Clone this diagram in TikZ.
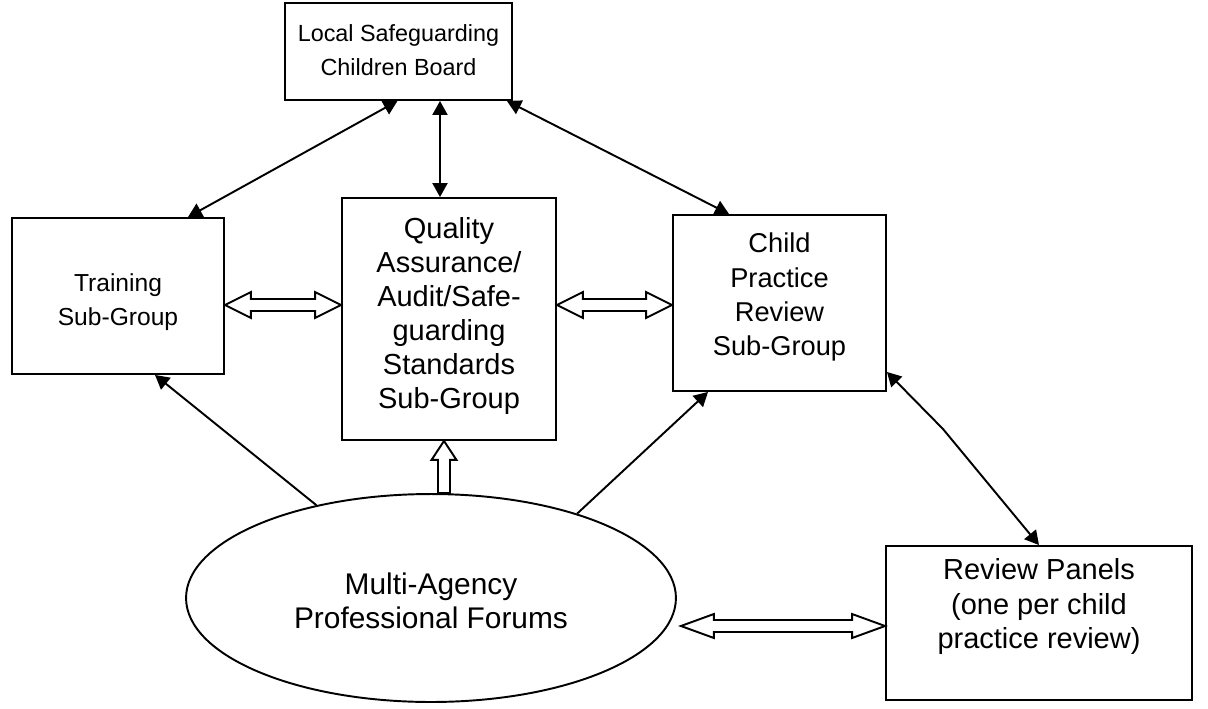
\documentclass[tikz,border=0pt]{standalone}
\usepackage{fontspec}
\setmainfont{Liberation Sans}
\usetikzlibrary{arrows.meta,calc,shapes.geometric}
\tikzset{
  box/.style={draw, line width=1.1pt, rectangle, inner sep=0pt},
  oval/.style={draw, line width=1.1pt, ellipse, inner sep=0pt},
  txt/.style={inner sep=0pt, align=center, font=\fontsize{#1}{19.4}\selectfont},
  link/.style={line width=1.1pt, {Triangle[length=0.28cm,width=0.3cm]}-{Triangle[length=0.28cm,width=0.3cm]}},
  onelink/.style={line width=1.1pt, -{Triangle[length=0.28cm,width=0.3cm]}},
  hollow/.style={draw, line width=1.1pt, fill=white, line join=miter}
}
\begin{document}
\begin{tikzpicture}[x=0.02cm,y=-0.02cm]
\useasboundingbox (0,0) rectangle (1208,708);
\node[box, minimum width=4.54cm, minimum height=1.94cm] (lscb) at (398.5,51.5) {};
\node[box, minimum width=4.24cm, minimum height=3.12cm] (tr) at (118,296) {};
\node[box, minimum width=4.28cm, minimum height=4.84cm] (qa) at (449,319) {};
\node[box, minimum width=4.26cm, minimum height=3.52cm] (cpr) at (779.5,303) {};
\node[box, minimum width=6.12cm, minimum height=3.08cm] (rp) at (1039,623) {};
\node[oval, minimum width=9.8cm, minimum height=4.16cm] (ell) at (431,598) {};

\node[txt=13.3] (lscbt) at ([yshift=0.03cm]lscb.center) {Local Safeguarding\\Children Board};
\node[txt=14] (trt) at ([yshift=-0.12cm]tr.center) {Training\\Sub-Group};
\node[txt=16.5] (qat) at ([yshift=0.06cm]qa.center) {Quality\\Assurance/\\Audit/Safe-\\guarding\\Standards\\Sub-Group};
\node[txt=15.5] (cprt) at ([yshift=0.12cm]cpr.center) {Child\\Practice\\Review\\Sub-Group};
\node[txt=16.5] (rpt) at ([yshift=0.33cm]rp.center) {Review Panels\\(one per child\\practice review)};
\node[txt=17] (ellt) at ([yshift=-0.05cm]ell.center) {Multi-Agency\\Professional Forums};

% thin arrows from the board
\draw[link] ([xshift=-0.02cm]lscb.south) -- ([xshift=1.4cm]tr.north);
\draw[link] ([xshift=0.83cm]lscb.south) -- ([xshift=0.83cm]lscb.south |- qa.north);
\draw[link] ([xshift=2.17cm]lscb.south) -- ([xshift=-1.01cm]cpr.north);

% from forums
\draw[onelink] (ell.141.6) -- ([xshift=0.74cm]tr.south);
\draw[onelink] (ell.30.4) -- ([xshift=-1.43cm]cpr.south);

% child practice review <-> review panels
\coordinate (bend) at (943,429);
\draw[link] ([yshift=-1.38cm]cpr.east) -- (bend) -- (rp.north);

% hollow double arrows
\path[hollow] let \p1=([yshift=-0.18cm]tr.east), \p2=(qa.west) in
  (\x1,\y1) -- (\x1+0.52cm,\y1+0.26cm) -- (\x1+0.52cm,\y1+0.12cm) -- (\x2-0.52cm,\y1+0.12cm)
  -- (\x2-0.52cm,\y1+0.26cm) -- (\x2,\y1) -- (\x2-0.52cm,\y1-0.26cm) -- (\x2-0.52cm,\y1-0.12cm)
  -- (\x1+0.52cm,\y1-0.12cm) -- (\x1+0.52cm,\y1-0.26cm) -- cycle;
\path[hollow] let \p1=(qa.east), \p2=([yshift=-0.04cm]cpr.west) in
  (\x1,\y2) -- (\x1+0.52cm,\y2+0.26cm) -- (\x1+0.52cm,\y2+0.12cm) -- (\x2-0.52cm,\y2+0.12cm)
  -- (\x2-0.52cm,\y2+0.26cm) -- (\x2,\y2) -- (\x2-0.52cm,\y2-0.26cm) -- (\x2-0.52cm,\y2-0.12cm)
  -- (\x1+0.52cm,\y2-0.12cm) -- (\x1+0.52cm,\y2-0.26cm) -- cycle;
\path[hollow] let \p1=([xshift=0.08cm]ell.east), \p2=([yshift=-0.06cm]rp.west) in
  (\x1,\y2) -- (\x1+0.66cm,\y2+0.24cm) -- (\x1+0.66cm,\y2+0.12cm) -- (\x2-0.66cm,\y2+0.12cm)
  -- (\x2-0.66cm,\y2+0.24cm) -- (\x2,\y2) -- (\x2-0.66cm,\y2-0.24cm) -- (\x2-0.66cm,\y2-0.12cm)
  -- (\x1+0.66cm,\y2-0.12cm) -- (\x1+0.66cm,\y2-0.24cm) -- cycle;
% hollow up arrow
\path[hollow] let \p1=([xshift=-0.1cm]qa.south), \p2=(ell.north) in
  (\x1,\y1) -- (\x1+0.25cm,\y1-0.38cm) -- (\x1+0.12cm,\y1-0.38cm) -- (\x1+0.12cm,\y2)
  -- (\x1-0.12cm,\y2) -- (\x1-0.12cm,\y1-0.38cm) -- (\x1-0.25cm,\y1-0.38cm) -- cycle;
\end{tikzpicture}
\end{document}
